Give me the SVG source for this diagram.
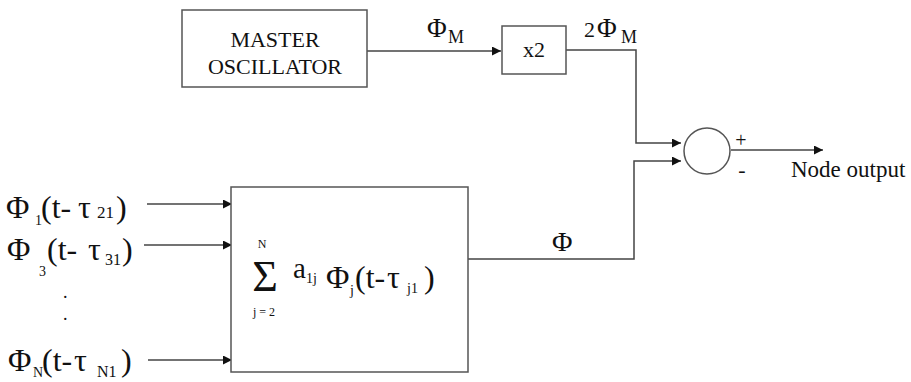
<svg xmlns="http://www.w3.org/2000/svg" width="911" height="382" viewBox="0 0 911 382">
  <style>
    .box { fill: #ffffff; stroke: #555555; stroke-width: 1.5; }
    .wire { fill: none; stroke: #444444; stroke-width: 1.5; }
    .t { font-family: "Liberation Serif", "Times New Roman", serif; fill: #111111; }
  </style>
  <defs>
    <marker id="arrow" viewBox="0 0 10 10" refX="10" refY="5" markerWidth="10" markerHeight="9" markerUnits="userSpaceOnUse" orient="auto">
      <path d="M0,0 L10,5 L0,10 Z" fill="#111111"/>
    </marker>
  </defs>

  <rect width="911" height="382" fill="#ffffff"/>

  <!-- connectors -->
  <g id="connectors">
    <path class="wire" d="M367,51 H501" marker-end="url(#arrow)"/>
    <path class="wire" d="M566,50 H636 V143 H681" marker-end="url(#arrow)"/>
    <path class="wire" d="M468,259 H634 V161 H681" marker-end="url(#arrow)"/>
    <path class="wire" d="M731,150 H823" marker-end="url(#arrow)"/>
    <path class="wire" d="M147,204 H232" marker-end="url(#arrow)"/>
    <path class="wire" d="M144,245 H232" marker-end="url(#arrow)"/>
    <path class="wire" d="M148,360 H232" marker-end="url(#arrow)"/>
  </g>

  <!-- master oscillator -->
  <g id="master-oscillator">
    <rect class="box" x="182" y="10" width="185" height="77"/>
    <text class="t" x="275" y="47" font-size="22" text-anchor="middle">MASTER</text>
    <text class="t" x="275" y="74" font-size="22" text-anchor="middle">OSCILLATOR</text>
  </g>

  <!-- frequency doubler -->
  <g id="doubler">
    <rect class="box" x="502" y="26" width="64" height="48"/>
    <text class="t" x="534" y="57" font-size="22" text-anchor="middle">x2</text>
  </g>

  <!-- summing junction -->
  <g id="junction">
    <circle class="box" cx="707" cy="151" r="23"/>
    <text class="t" x="741" y="147" font-size="20" text-anchor="middle">+</text>
    <text class="t" x="742" y="177" font-size="22" text-anchor="middle">-</text>
  </g>

  <!-- weighted sum block -->
  <g id="weighted-sum">
    <rect class="box" x="231" y="187" width="237" height="185"/>
    <text class="t" x="262" y="248" font-size="12" text-anchor="middle">N</text>
    <text class="t" x="265" y="291" font-size="44" text-anchor="middle">Σ</text>
    <text class="t" x="264" y="316" font-size="12" text-anchor="middle">j = 2</text>
    <text class="t" x="293" y="278" font-size="29">a</text>
    <text class="t" x="306" y="283" font-size="14">1j</text>
    <text class="t" x="326" y="288" font-size="32">Φ</text>
    <text class="t" x="350" y="295" font-size="14">j</text>
    <text class="t" x="355" y="288" font-size="32">(t-</text>
    <text class="t" x="387" y="288" font-size="32">τ</text>
    <text class="t" x="407" y="293" font-size="14">j1</text>
    <text class="t" x="424" y="288" font-size="32">)</text>
  </g>

  <!-- labels on connectors -->
  <g id="labels">
    <text class="t" x="427" y="37" font-size="27">Φ</text>
    <text class="t" x="448" y="43" font-size="18">M</text>
    <text class="t" x="584" y="37" font-size="22">2</text>
    <text class="t" x="597" y="37" font-size="27">Φ</text>
    <text class="t" x="621" y="43" font-size="18">M</text>
    <text class="t" x="552" y="251" font-size="28">Φ</text>
    <text class="t" x="791" y="177" font-size="23">Node output</text>
  </g>

  <!-- input signals -->
  <g id="inputs">
    <text class="t" x="6" y="218" font-size="32">Φ</text>
    <text class="t" x="35" y="225" font-size="14">1</text>
    <text class="t" x="41" y="218" font-size="32">(t-</text>
    <text class="t" x="78" y="218" font-size="32">τ</text>
    <text class="t" x="97" y="218" font-size="17">21</text>
    <text class="t" x="116" y="218" font-size="32">)</text>

    <text class="t" x="7" y="260" font-size="32">Φ</text>
    <text class="t" x="39" y="276" font-size="14">3</text>
    <text class="t" x="47" y="260" font-size="32">(t-</text>
    <text class="t" x="88" y="260" font-size="32">τ</text>
    <text class="t" x="105" y="265" font-size="16">31</text>
    <text class="t" x="122" y="260" font-size="32">)</text>

    <text class="t" x="63" y="298" font-size="18">.</text>
    <text class="t" x="63" y="320" font-size="18">.</text>

    <text class="t" x="8" y="371" font-size="32">Φ</text>
    <text class="t" x="33" y="377" font-size="14">N</text>
    <text class="t" x="42" y="371" font-size="32">(t-</text>
    <text class="t" x="74" y="371" font-size="32">τ</text>
    <text class="t" x="97" y="377" font-size="16">N1</text>
    <text class="t" x="121" y="371" font-size="32">)</text>
  </g>
</svg>
